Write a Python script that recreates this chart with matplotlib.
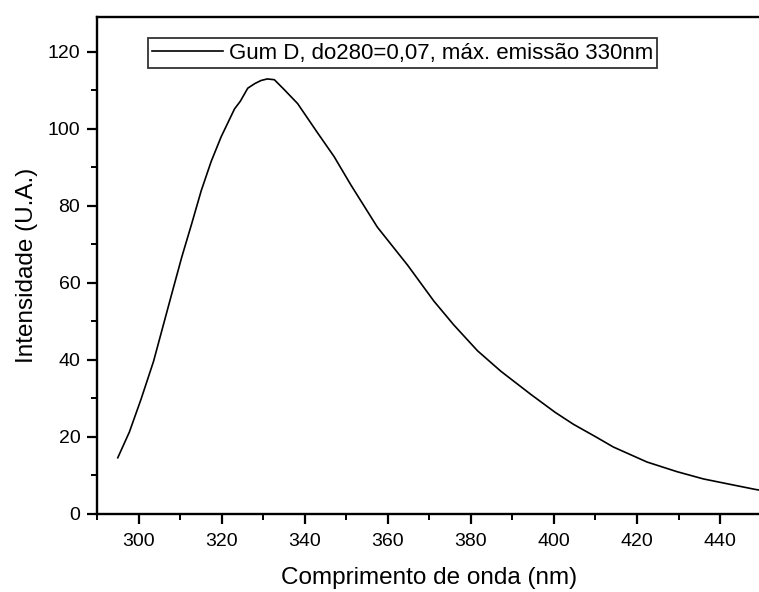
import matplotlib
matplotlib.use('Agg')
import matplotlib.pyplot as plt
from matplotlib.ticker import MultipleLocator

# values
wavelength = [295.0, 297.8, 300.6, 303.6, 305.6, 308.0, 310.4, 312.8, 315.1, 317.5,
              319.9, 323.1, 324.5, 326.3, 328.0, 329.5, 331.0, 332.7, 335.1, 338.3,
              343.1, 347.1, 351.1, 357.5, 364.8, 371.1, 375.9, 381.6, 387.2, 394.4,
              400.3, 404.7, 410.3, 414.3, 422.4, 429.6, 436.0, 442.4, 448.4, 450.0]
intensity  = [14.6, 21.3, 29.8, 39.6, 47.6, 57.2, 66.7, 75.4, 84.0, 91.6,
              98.0, 105.2, 107.2, 110.6, 111.8, 112.6, 113.0, 112.8, 110.2, 106.6,
              99.0, 92.8, 85.5, 74.5, 64.6, 55.3, 49.1, 42.4, 37.1, 31.1,
              26.4, 23.3, 19.9, 17.4, 13.5, 11.0, 9.1, 7.7, 6.4, 6.1]
label = 'Gum D, do280=0,07, máx. emissão 330nm'

plt.rcParams['font.family'] = ['Liberation Sans', 'DejaVu Sans']

fig = plt.figure(figsize=(7.59, 5.92), dpi=100)
ax = fig.add_axes([0.1278, 0.1318, 0.8756, 0.8389])

ax.plot(wavelength, intensity, color='black', linewidth=1.2, label=label)

ax.set_xlim(290, 450)
ax.set_ylim(0, 129)
ax.xaxis.set_major_locator(MultipleLocator(20))
ax.xaxis.set_minor_locator(MultipleLocator(10))
ax.yaxis.set_major_locator(MultipleLocator(20))
ax.yaxis.set_minor_locator(MultipleLocator(10))

for s in ax.spines.values():
  s.set_linewidth(1.7)
ax.tick_params(which='major', direction='out', length=7, width=1.6, labelsize=14, pad=5)
ax.tick_params(axis='x', which='major', pad=7)
ax.tick_params(which='minor', direction='out', length=4, width=1.4)
ax.tick_params(top=False, right=False)

ax.set_xlabel('Comprimento de onda (nm)', fontsize=17.5, labelpad=12)
ax.set_ylabel('Intensidade (U.A.)', fontsize=17.5, labelpad=7)

leg = ax.legend(loc='upper left', bbox_to_anchor=(0.076, 0.958), fontsize=16,
                frameon=True, fancybox=False, handlelength=3.2, handletextpad=0.25,
                borderpad=0.2, borderaxespad=0)
leg.get_frame().set_edgecolor('black')
leg.get_frame().set_linewidth(1.3)

fig.savefig('out.png', dpi=100)
